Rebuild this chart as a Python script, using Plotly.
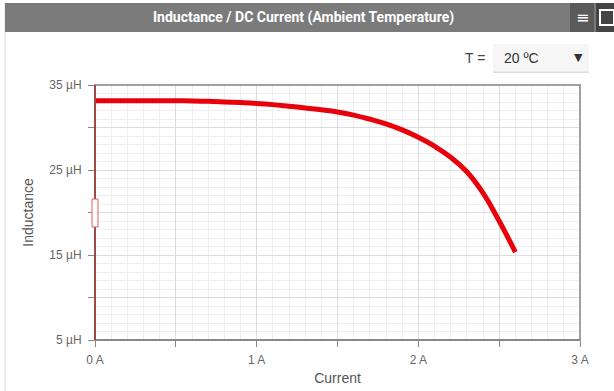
import plotly.graph_objects as go

# Data
current_a = [0.0, 0.1, 0.2, 0.3, 0.4, 0.5, 0.6, 0.7, 0.8, 0.9, 1.0, 1.1, 1.2, 1.3,
             1.4, 1.5, 1.6, 1.7, 1.8, 1.9, 2.0, 2.1, 2.2, 2.3, 2.4, 2.5, 2.6]
inductance_uh = [33.15, 33.15, 33.15, 33.15, 33.15, 33.14, 33.12, 33.08, 33.01, 32.93, 32.83, 32.69, 32.5, 32.3,
                 32.08, 31.82, 31.46, 30.98, 30.42, 29.72, 28.85, 27.8, 26.5, 24.8, 22.3, 19.0, 15.35]

x_tickvals = [0, 0.5, 1, 1.5, 2, 2.5, 3]
x_ticktext = ["0 A", "", "1 A", "", "2 A", "", "3 A"]
y_tickvals = [5, 10, 15, 20, 25, 30, 35]
y_ticktext = ["5 µH", "", "15 µH", "", "25 µH", "", "35 µH"]

title_text = "Inductance / DC Current (Ambient Temperature)"
temp_label = "T ="
temp_value = "20 ºC"

W, H = 614, 391
L, R, T, B = 95, 34, 85, 51
pw, ph = W - L - R, H - T - B


def px(x):
    return (x - L) / pw


def py(y):
    return (H - B - y) / ph


fig = go.Figure()
fig.add_trace(go.Scatter(
    x=current_a, y=inductance_uh, mode="lines",
    line=dict(color="#e8000b", width=5, shape="spline", smoothing=1.3),
    hoverinfo="skip", showlegend=False,
))

axis_font = dict(family="Liberation Sans, Arial, sans-serif", size=12, color="#666666")
title_font = dict(family="Liberation Sans, Arial, sans-serif", size=14, color="#555555")

fig.update_xaxes(
    range=[0, 3], tickvals=x_tickvals, ticktext=x_ticktext,
    ticks="outside", ticklen=6, tickcolor="#888888", tickwidth=1,
    ticklabelstandoff=3, automargin=False,
    showgrid=True, gridcolor="#dcdcdc", gridwidth=1,
    minor=dict(dtick=0.1, showgrid=True, gridcolor="#efefef", gridwidth=1),
    showline=False, zeroline=False, tickfont=axis_font,
    title=dict(text="Current", font=title_font, standoff=6),
    fixedrange=True,
)
fig.update_yaxes(
    range=[5, 35], tickvals=y_tickvals, ticktext=y_ticktext,
    ticks="outside", ticklen=6, tickcolor="#888888", tickwidth=1,
    ticklabelstandoff=4, automargin=False,
    showgrid=True, gridcolor="#dcdcdc", gridwidth=1,
    minor=dict(dtick=1, showgrid=True, gridcolor="#efefef", gridwidth=1),
    showline=False, zeroline=False, tickfont=axis_font,
    title=dict(text="Inductance", font=title_font, standoff=12),
    fixedrange=True,
)

shapes = [
    # plot border
    dict(type="rect", xref="paper", yref="paper", x0=0, x1=1, y0=0, y1=1,
         line=dict(color="#a0a0a0", width=2), layer="above"),
    # bottom axis
    dict(type="line", xref="paper", yref="paper", x0=0, x1=1, y0=0, y1=0,
         line=dict(color="#888888", width=2), layer="above"),
    # left axis (red-brown)
    dict(type="line", xref="paper", yref="paper", x0=0, x1=0, y0=0, y1=1,
         line=dict(color="#a04848", width=2), layer="above"),
    # scrollbar handle
    dict(type="rect", xref="paper", yref="paper", x0=px(92), x1=px(98), y0=py(227), y1=py(199),
         line=dict(color="#e06060", width=1), fillcolor="white", layer="above"),
    # panel left border
    dict(type="line", xref="paper", yref="paper", x0=px(5), x1=px(5), y0=py(391), y1=py(3),
         line=dict(color="#dddddd", width=1), layer="below"),
    # title bar
    dict(type="rect", xref="paper", yref="paper", x0=px(5), x1=px(614), y0=py(32), y1=py(3),
         line=dict(width=0), fillcolor="#7b7b7b", layer="above"),
    # menu icon box
    dict(type="rect", xref="paper", yref="paper", x0=px(570), x1=px(594), y0=py(32), y1=py(3),
         line=dict(width=0), fillcolor="#5a5a5a", layer="above"),
    # fullscreen icon box
    dict(type="rect", xref="paper", yref="paper", x0=px(596), x1=px(614), y0=py(32), y1=py(3),
         line=dict(width=0), fillcolor="#444444", layer="above"),
    dict(type="rect", xref="paper", yref="paper", x0=px(600), x1=px(614), y0=py(25), y1=py(10),
         line=dict(color="white", width=2), fillcolor="rgba(0,0,0,0)", layer="above"),
    # dropdown box shadow + box
    dict(type="rect", xref="paper", yref="paper", x0=px(493), x1=px(589), y0=py(73), y1=py(44),
         line=dict(width=0), fillcolor="#dedede", layer="above"),
    dict(type="rect", xref="paper", yref="paper", x0=px(493), x1=px(589), y0=py(71.5), y1=py(44),
         line=dict(width=0), fillcolor="#f6f6f6", layer="above"),
]

annotations = [
    dict(text="<b>" + title_text + "</b>", xref="paper", yref="paper", x=px(303), y=py(17),
         showarrow=False, xanchor="center", yanchor="middle",
         font=dict(family="Roboto, sans-serif", size=14, color="white")),
    dict(text="≡", xref="paper", yref="paper", x=px(582), y=py(17), showarrow=False,
         xanchor="center", yanchor="middle", font=dict(family="DejaVu Sans", size=16, color="white")),
    dict(text=temp_label, xref="paper", yref="paper", x=px(487), y=py(58), showarrow=False,
         xanchor="right", yanchor="middle",
         font=dict(family="Liberation Sans, Arial, sans-serif", size=14, color="#444444")),
    dict(text=temp_value, xref="paper", yref="paper", x=px(502), y=py(58), showarrow=False,
         xanchor="left", yanchor="middle",
         font=dict(family="Liberation Sans, Arial, sans-serif", size=14, color="#333333")),
    dict(text="▼", xref="paper", yref="paper", x=px(578), y=py(58), showarrow=False,
         xanchor="center", yanchor="middle",
         font=dict(family="DejaVu Sans", size=11, color="#333333")),
]

fig.update_layout(
    width=W, height=H,
    margin=dict(l=L, r=R, t=T, b=B, pad=0),
    paper_bgcolor="white", plot_bgcolor="white",
    shapes=shapes, annotations=annotations,
    showlegend=False,
)

fig.write_html("out.html", config={"displayModeBar": False},
               post_script="document.body.style.margin='0';document.body.style.padding='0';")
